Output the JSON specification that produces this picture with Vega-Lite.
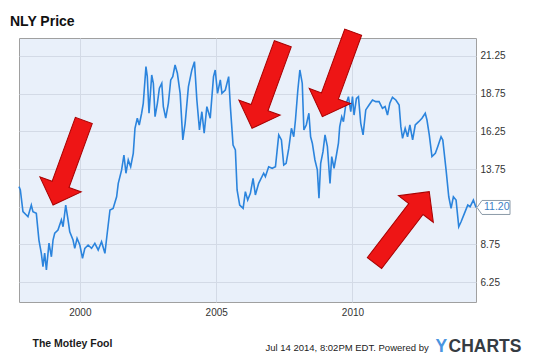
{
  "$schema": "https://vega.github.io/schema/vega-lite/v6.json",
  "width": 457,
  "height": 264,
  "autosize": {"type": "none"},
  "padding": {"left": 19, "top": 38, "right": 59, "bottom": 57},
  "background": "white",
  "title": {
    "text": "NLY Price",
    "anchor": "start",
    "frame": "group",
    "font": "Liberation Sans",
    "fontSize": 14,
    "fontWeight": "bold",
    "color": "#111111",
    "baseline": "alphabetic",
    "offset": 12,
    "dx": -9,
    "dy": 25
  },
  "config": {
    "view": {"fill": "#e9f0fa", "stroke": "#a0a0a0"},
    "font": "Liberation Sans"
  },
  "resolve": {
    "scale": {"x": "independent", "y": "independent"},
    "axis": {"x": "independent", "y": "independent"}
  },
  "layer": [
    {
      "data": {
        "values": [
          {"date": "1997-10-08", "price": 12.58},
          {"date": "1997-10-26", "price": 12.36},
          {"date": "1997-11-30", "price": 10.92},
          {"date": "1998-01-14", "price": 10.70},
          {"date": "1998-02-05", "price": 10.59},
          {"date": "1998-03-22", "price": 11.36},
          {"date": "1998-04-13", "price": 10.92},
          {"date": "1998-05-28", "price": 10.81},
          {"date": "1998-07-02", "price": 9.04},
          {"date": "1998-08-03", "price": 8.16},
          {"date": "1998-08-25", "price": 7.27},
          {"date": "1998-09-17", "price": 8.18},
          {"date": "1998-10-10", "price": 7.05},
          {"date": "1998-11-14", "price": 8.84},
          {"date": "1998-12-16", "price": 7.93},
          {"date": "1999-01-07", "price": 9.04},
          {"date": "1999-01-30", "price": 9.50},
          {"date": "1999-03-14", "price": 9.70},
          {"date": "1999-04-29", "price": 10.37},
          {"date": "1999-05-21", "price": 9.92},
          {"date": "1999-06-26", "price": 11.36},
          {"date": "1999-07-27", "price": 10.37},
          {"date": "1999-08-19", "price": 9.59},
          {"date": "1999-10-02", "price": 9.04},
          {"date": "1999-10-25", "price": 8.49},
          {"date": "1999-11-25", "price": 9.15},
          {"date": "2000-01-01", "price": 8.71},
          {"date": "2000-02-06", "price": 7.83},
          {"date": "2000-03-08", "price": 8.49},
          {"date": "2000-04-21", "price": 8.71},
          {"date": "2000-06-06", "price": 8.49},
          {"date": "2000-07-20", "price": 8.82},
          {"date": "2000-09-03", "price": 8.38},
          {"date": "2000-10-18", "price": 8.93},
          {"date": "2000-12-02", "price": 8.16},
          {"date": "2001-01-02", "price": 9.49},
          {"date": "2001-02-08", "price": 11.03},
          {"date": "2001-03-22", "price": 11.14},
          {"date": "2001-05-08", "price": 11.91},
          {"date": "2001-05-30", "price": 12.80},
          {"date": "2001-07-14", "price": 13.69},
          {"date": "2001-08-14", "price": 14.68},
          {"date": "2001-09-10", "price": 13.47},
          {"date": "2001-10-11", "price": 14.35},
          {"date": "2001-11-12", "price": 13.90},
          {"date": "2001-12-17", "price": 14.79},
          {"date": "2002-01-09", "price": 16.45},
          {"date": "2002-02-09", "price": 17.12},
          {"date": "2002-03-07", "price": 16.67},
          {"date": "2002-04-08", "price": 17.45},
          {"date": "2002-04-30", "price": 18.11},
          {"date": "2002-06-05", "price": 20.54},
          {"date": "2002-06-23", "price": 19.88},
          {"date": "2002-07-16", "price": 17.45},
          {"date": "2002-08-21", "price": 19.99},
          {"date": "2002-09-12", "price": 19.44},
          {"date": "2002-10-05", "price": 17.22},
          {"date": "2002-11-05", "price": 18.11},
          {"date": "2002-12-02", "price": 19.11},
          {"date": "2003-01-03", "price": 19.44},
          {"date": "2003-01-24", "price": 17.89},
          {"date": "2003-02-25", "price": 17.12},
          {"date": "2003-04-01", "price": 18.11},
          {"date": "2003-05-03", "price": 19.66},
          {"date": "2003-05-30", "price": 19.88},
          {"date": "2003-06-30", "price": 20.65},
          {"date": "2003-07-31", "price": 20.10},
          {"date": "2003-09-06", "price": 18.77},
          {"date": "2003-10-12", "price": 15.68},
          {"date": "2003-11-12", "price": 16.78},
          {"date": "2003-12-26", "price": 19.21},
          {"date": "2004-02-10", "price": 20.32},
          {"date": "2004-03-16", "price": 20.87},
          {"date": "2004-04-17", "price": 18.33},
          {"date": "2004-05-22", "price": 16.34},
          {"date": "2004-06-23", "price": 17.55},
          {"date": "2004-07-24", "price": 16.12},
          {"date": "2004-08-29", "price": 17.89},
          {"date": "2004-10-13", "price": 17.12},
          {"date": "2004-11-26", "price": 19.88},
          {"date": "2004-12-19", "price": 20.32},
          {"date": "2005-01-19", "price": 18.77},
          {"date": "2005-02-25", "price": 19.66},
          {"date": "2005-03-19", "price": 18.77},
          {"date": "2005-05-03", "price": 18.99},
          {"date": "2005-06-17", "price": 19.88},
          {"date": "2005-07-10", "price": 17.89},
          {"date": "2005-08-15", "price": 15.34},
          {"date": "2005-09-15", "price": 15.01},
          {"date": "2005-10-08", "price": 12.36},
          {"date": "2005-11-12", "price": 11.36},
          {"date": "2005-12-28", "price": 11.14},
          {"date": "2006-01-27", "price": 12.25},
          {"date": "2006-02-27", "price": 11.69},
          {"date": "2006-04-04", "price": 12.14},
          {"date": "2006-05-10", "price": 13.13},
          {"date": "2006-06-10", "price": 12.03},
          {"date": "2006-07-24", "price": 12.80},
          {"date": "2006-09-29", "price": 13.47},
          {"date": "2006-10-22", "price": 13.24},
          {"date": "2006-12-05", "price": 13.90},
          {"date": "2007-01-21", "price": 13.80},
          {"date": "2007-03-06", "price": 13.90},
          {"date": "2007-04-19", "price": 16.01},
          {"date": "2007-05-25", "price": 15.68},
          {"date": "2007-06-25", "price": 14.02},
          {"date": "2007-07-27", "price": 14.13},
          {"date": "2007-09-01", "price": 15.13},
          {"date": "2007-10-06", "price": 16.45},
          {"date": "2007-11-06", "price": 15.89},
          {"date": "2007-11-29", "price": 17.00},
          {"date": "2007-12-31", "price": 18.99},
          {"date": "2008-01-27", "price": 20.32},
          {"date": "2008-02-28", "price": 19.44},
          {"date": "2008-03-21", "price": 16.34},
          {"date": "2008-04-22", "price": 16.67},
          {"date": "2008-05-27", "price": 17.45},
          {"date": "2008-06-19", "price": 15.89},
          {"date": "2008-07-12", "price": 15.46},
          {"date": "2008-08-16", "price": 14.35},
          {"date": "2008-09-17", "price": 13.69},
          {"date": "2008-10-09", "price": 11.81},
          {"date": "2008-11-01", "price": 14.13},
          {"date": "2008-12-02", "price": 14.90},
          {"date": "2008-12-29", "price": 16.01},
          {"date": "2009-01-30", "price": 15.23},
          {"date": "2009-02-21", "price": 13.69},
          {"date": "2009-03-06", "price": 12.80},
          {"date": "2009-03-29", "price": 14.57},
          {"date": "2009-04-29", "price": 13.80},
          {"date": "2009-05-31", "price": 14.68},
          {"date": "2009-06-27", "price": 15.46},
          {"date": "2009-07-14", "price": 16.56},
          {"date": "2009-08-10", "price": 17.22},
          {"date": "2009-09-02", "price": 16.89},
          {"date": "2009-10-03", "price": 18.00},
          {"date": "2009-11-08", "price": 18.55},
          {"date": "2009-12-09", "price": 17.55},
          {"date": "2010-01-01", "price": 18.55},
          {"date": "2010-01-22", "price": 17.33},
          {"date": "2010-02-23", "price": 18.44},
          {"date": "2010-03-22", "price": 18.55},
          {"date": "2010-04-22", "price": 16.78},
          {"date": "2010-05-23", "price": 16.01},
          {"date": "2010-06-28", "price": 17.67},
          {"date": "2010-08-11", "price": 18.00},
          {"date": "2010-09-26", "price": 18.33},
          {"date": "2010-11-09", "price": 18.22},
          {"date": "2010-12-23", "price": 18.22},
          {"date": "2011-02-07", "price": 17.78},
          {"date": "2011-03-14", "price": 17.89},
          {"date": "2011-04-15", "price": 17.33},
          {"date": "2011-05-16", "price": 18.11},
          {"date": "2011-06-21", "price": 18.51},
          {"date": "2011-08-05", "price": 18.33},
          {"date": "2011-09-18", "price": 18.00},
          {"date": "2011-10-11", "price": 16.56},
          {"date": "2011-11-03", "price": 15.79},
          {"date": "2011-12-08", "price": 16.45},
          {"date": "2012-01-09", "price": 15.89},
          {"date": "2012-02-09", "price": 16.67},
          {"date": "2012-03-17", "price": 15.68},
          {"date": "2012-04-21", "price": 16.67},
          {"date": "2012-06-06", "price": 16.89},
          {"date": "2012-07-20", "price": 17.12},
          {"date": "2012-09-02", "price": 17.45},
          {"date": "2012-09-25", "price": 17.00},
          {"date": "2012-10-26", "price": 16.01},
          {"date": "2012-12-01", "price": 14.57},
          {"date": "2013-01-15", "price": 14.79},
          {"date": "2013-02-16", "price": 15.23},
          {"date": "2013-04-02", "price": 15.89},
          {"date": "2013-04-25", "price": 15.68},
          {"date": "2013-06-08", "price": 13.69},
          {"date": "2013-07-14", "price": 11.91},
          {"date": "2013-08-14", "price": 11.14},
          {"date": "2013-09-14", "price": 11.91},
          {"date": "2013-10-20", "price": 11.69},
          {"date": "2013-11-25", "price": 9.92},
          {"date": "2013-12-26", "price": 10.25},
          {"date": "2014-02-09", "price": 10.81},
          {"date": "2014-03-26", "price": 11.36},
          {"date": "2014-04-26", "price": 11.25},
          {"date": "2014-06-09", "price": 11.69},
          {"date": "2014-07-14", "price": 11.20}
        ]
      },
      "mark": {"type": "line", "color": "#2b84dd", "strokeWidth": 1.6},
      "encoding": {
        "x": {
          "field": "date",
          "type": "temporal",
          "scale": {"domain": [{"year": 1997, "month": 10, "date": 8}, {"year": 2014, "month": 7, "date": 14}]},
          "axis": {
            "orient": "bottom",
            "values": [{"year": 2000, "month": 1, "date": 1}, {"year": 2005, "month": 1, "date": 1}, {"year": 2010, "month": 1, "date": 1}],
            "format": "%Y",
            "ticks": false,
            "domain": false,
            "grid": true,
            "gridColor": "#d3dae6",
            "gridOpacity": 1,
            "labelFont": "Liberation Sans",
            "labelFontSize": 10,
            "labelColor": "#333333",
            "labelPadding": 5,
            "labelFlush": false,
            "title": "The Motley Fool",
            "titleX": 13,
            "titleY": 44,
            "titleAlign": "left",
            "titleBaseline": "alphabetic",
            "titleFont": "Liberation Sans",
            "titleFontSize": 10.5,
            "titleFontWeight": "bold",
            "titleColor": "#1a1a1a"
          }
        },
        "y": {
          "field": "price",
          "type": "quantitative",
          "scale": {"domain": [4.93, 22.44], "zero": false, "nice": false},
          "axis": {
            "orient": "right",
            "values": [6.25, 8.75, 11.25, 13.75, 16.25, 18.75, 21.25],
            "labelExpr": "datum.value == 11.25 ? '' : format(datum.value, '.2f')",
            "ticks": false,
            "domain": false,
            "grid": true,
            "gridColor": "#d3dae6",
            "gridOpacity": 1,
            "labelFont": "Liberation Sans",
            "labelFontSize": 10,
            "labelColor": "#333333",
            "labelPadding": 4,
            "title": "Jul 14 2014, 8:02PM EDT. Powered by",
            "titleAngle": 0,
            "titleX": -211,
            "titleY": 312,
            "titleAlign": "left",
            "titleBaseline": "alphabetic",
            "titleFont": "Liberation Sans",
            "titleFontSize": 9.5,
            "titleFontWeight": "normal",
            "titleColor": "#222222"
          }
        }
      }
    },
    {
      "encoding": {
        "x": {
          "field": "date",
          "type": "temporal",
          "scale": {"domain": [{"year": 1997, "month": 10, "date": 8}, {"year": 2014, "month": 7, "date": 14}]},
          "axis": {
            "orient": "top",
            "labels": false,
            "ticks": false,
            "domain": false,
            "grid": false,
            "title": "CHARTS",
            "titleX": 429,
            "titleY": 313,
            "titleAlign": "left",
            "titleBaseline": "alphabetic",
            "titleFont": "Liberation Sans",
            "titleFontSize": 17.5,
            "titleFontWeight": "bold",
            "titleColor": "#353b42"
          }
        },
        "y": {
          "field": "price",
          "type": "quantitative",
          "scale": {"domain": [4.93, 22.44], "zero": false, "nice": false},
          "axis": {
            "orient": "left",
            "labels": false,
            "ticks": false,
            "domain": false,
            "grid": false,
            "title": "Y",
            "titleAngle": 0,
            "titleX": 416,
            "titleY": 313,
            "titleAlign": "left",
            "titleBaseline": "alphabetic",
            "titleFont": "Liberation Sans",
            "titleFontSize": 17.5,
            "titleFontWeight": "bold",
            "titleColor": "#4a95e0"
          }
        }
      },
      "layer": [
        {
          "data": {"values": [{"date": "2014-07-14", "price": 11.2, "label": "11.20"}]},
          "mark": {
            "type": "point",
            "shape": "M1,0 L6,-7 L34,-7 L34,7 L6,7 Z",
            "size": 4,
            "filled": true,
            "fill": "#ffffff",
            "stroke": "#8c9aa8",
            "strokeWidth": 1,
            "opacity": 1
          }
        },
        {
          "data": {"values": [{"date": "2014-07-14", "price": 11.2, "label": "11.20"}]},
          "mark": {
            "type": "text",
            "dx": 8,
            "align": "left",
            "baseline": "middle",
            "font": "Liberation Sans",
            "fontSize": 10.5,
            "color": "#3d7fc6"
          },
          "encoding": {"text": {"field": "label"}}
        },
        {
          "data": {"values": [
            {"date": "1999-01-07", "price": 11.36},
            {"date": "2006-04-26", "price": 16.45},
            {"date": "2008-11-24", "price": 17.22}
          ]},
          "mark": {
            "type": "point",
            "shape": "M0,0 L22,22 L9,22 L9,90 L-9,90 L-9,22 L-22,22 Z",
            "size": 4,
            "angle": 200,
            "filled": true,
            "fill": "#ee1515",
            "stroke": "#a80000",
            "strokeWidth": 1,
            "opacity": 1
          }
        },
        {
          "data": {"values": [
            {"date": "2012-10-26", "price": 12.25}
          ]},
          "mark": {
            "type": "point",
            "shape": "M0,0 L22,22 L9,22 L9,90 L-9,90 L-9,22 L-22,22 Z",
            "size": 4,
            "angle": 37.5,
            "filled": true,
            "fill": "#ee1515",
            "stroke": "#a80000",
            "strokeWidth": 1,
            "opacity": 1
          }
        }
      ]
    }
  ]
}
